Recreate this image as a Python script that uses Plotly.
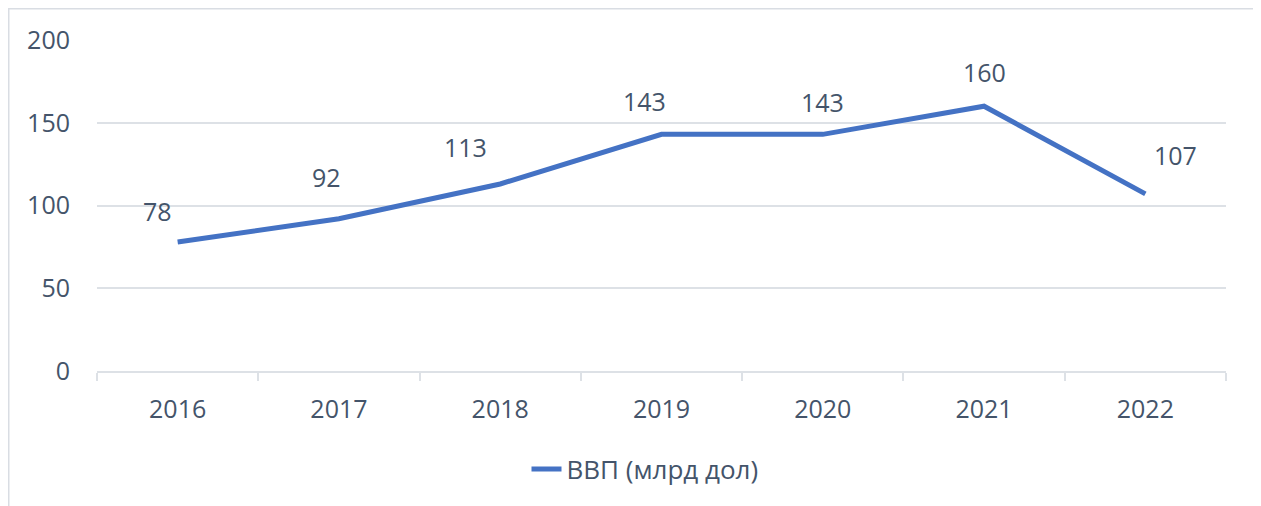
import plotly.graph_objects as go

years = ["2016", "2017", "2018", "2019", "2020", "2021", "2022"]
gdp = [78, 92, 113, 143, 143, 160, 107]
y_ticks = [0, 50, 100, 150, 200]
series_name = "ВВП (млрд дол)"

# label offsets (px) for data labels
label_dx = [-20, -12, -35, -17, 0, 0, 30]
label_dy = [31, 42, 37, 33, 32, 34, 39]

FONT = "Open Sans"
TXT = "#44546A"
GRID = "#DDE1E6"
LINE = "#4472C4"
FS = 25

# page has an 8px body margin; figure sized so it ends at the window edge
OFF = 8
W, H = 1261 - OFF, 506 - OFF
L, R, T, B = 97 - OFF, 35, 40 - OFF, 135
pw, ph = W - L - R, H - T - B

fig = go.Figure()
fig.add_trace(go.Scatter(
    x=years, y=gdp, mode="lines", name=series_name,
    line=dict(color=LINE, width=5),
))

for i, (v, dx, dy) in enumerate(zip(gdp, label_dx, label_dy)):
    fig.add_annotation(x=i, y=v, xref="x", yref="y", text=str(v),
                       showarrow=False, xshift=dx, yshift=dy,
                       font=dict(family=FONT, size=FS, color=TXT))


def px_x(p):
    return (p - L) / pw


def px_y(p):
    return (H - B - p) / ph


fig.add_shape(type="rect", xref="paper", yref="paper",
              x0=px_x(0.75), x1=px_x(W - 5.5), y0=px_y(H + 20), y1=px_y(0.75),
              line=dict(color="#D9DDE3", width=1.5), layer="below")

fig.update_layout(
    width=W, height=H,
    margin=dict(l=L, r=R, t=T, b=B, autoexpand=False),
    paper_bgcolor="white", plot_bgcolor="white",
    font=dict(family=FONT, size=FS, color=TXT),
    showlegend=True,
    legend=dict(orientation="h", xref="container", yref="container",
                x=(645 - OFF) / W, xanchor="center",
                y=1 - (469 - OFF) / H, yanchor="middle",
                font=dict(family=FONT, size=26, color=TXT)),
    xaxis=dict(type="category", showgrid=False, showline=True,
               linecolor=GRID, linewidth=1.5,
               ticks="outside", tickson="boundaries", ticklen=8,
               tickcolor=GRID, tickwidth=1.5, ticklabelstandoff=15,
               tickfont=dict(family=FONT, size=FS, color=TXT),
               range=[-0.5, len(years) - 0.5]),
    yaxis=dict(range=[0, 200], tickvals=y_ticks, showgrid=True,
               gridcolor=GRID, gridwidth=1.5, zeroline=False,
               showline=False, ticks="", ticklabelstandoff=26,
               tickfont=dict(family=FONT, size=FS, color=TXT)),
)

fig.write_html("out.html")
